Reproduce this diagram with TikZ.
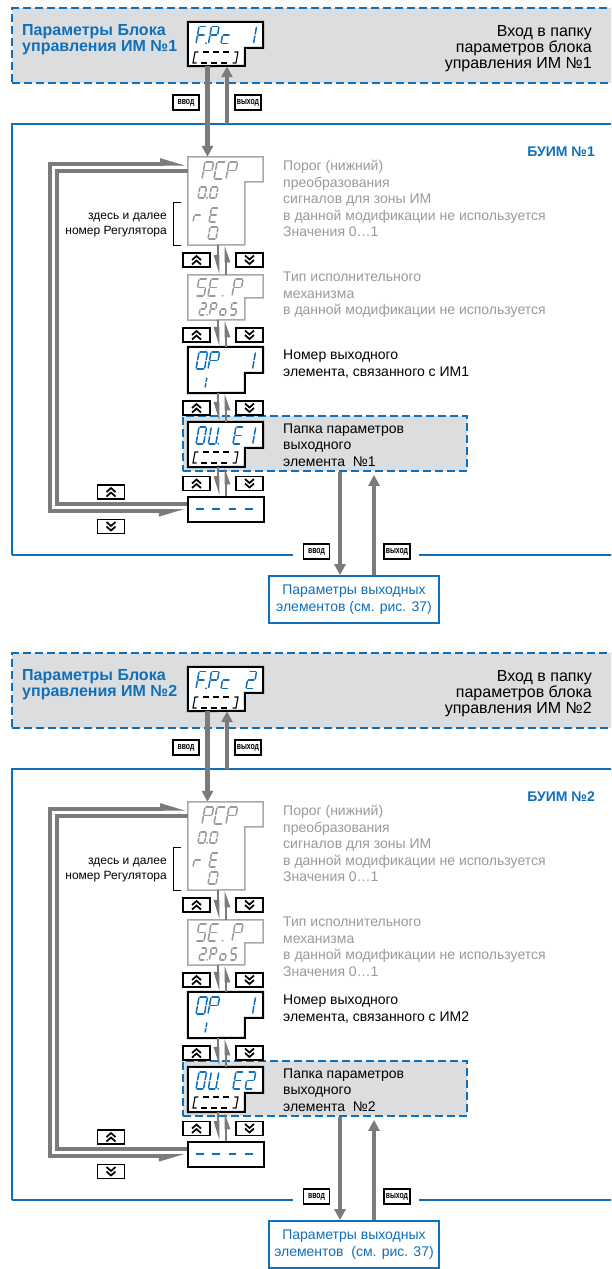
\documentclass[tikz,border=0pt]{standalone}
\usepackage{fontspec}
\setmainfont{Liberation Sans}
\usepackage{graphicx}
\usetikzlibrary{arrows.meta,calc}
\definecolor{ublue}{HTML}{0F6FB8}
\definecolor{fgrey}{HTML}{DCDDDF}
\definecolor{cgrey}{HTML}{7B7B7B}
\definecolor{tgrey}{HTML}{9A9A9A}
\definecolor{dgrey}{HTML}{A8A8A8}

% seven segment pieces (local coords, y pointing down, 0 = baseline)
\def\sgsega{\draw (1,-\sgH) -- (\sgW-1,-\sgH);}
\def\sgsegb{\draw (\sgW,-\sgH+1) -- (\sgW,-\sgH/2-1);}
\def\sgsegc{\draw (\sgW,-\sgH/2+1) -- (\sgW,-1);}
\def\sgsegd{\draw (1,0) -- (\sgW-1,0);}
\def\sgsege{\draw (0,-\sgH/2+1) -- (0,-1);}
\def\sgsegf{\draw (0,-\sgH+1) -- (0,-\sgH/2-1);}
\def\sgsegg{\draw (1,-\sgH/2) -- (\sgW-1,-\sgH/2);}
\def\sgsegp{\fill ({(\sgW+\sgA)/2},-0.2) circle (1);}
\def\sgsegq{\fill (2.5,-0.2) circle (1);}
\def\sgsegn{}

\newcommand\segstr[5]{%
  \def\sgW{#2}\def\sgH{#3}\def\sgA{#4}%
  \foreach \segs [count=\ci from 0] in {#5}{%
    \begin{scope}[shift={($#1+(\ci*#4,0)$)},xslant=0.18]
      \foreach \s in \segs {\csname sgseg\s\endcsname}
    \end{scope}}}

\newcommand\tlines[5]{%
  \foreach \txtline [count=\li from 0] in {#5}{%
    \node[anchor=base west,inner sep=0,#4] (#1-\li) at ($#2+(0,\li*#3)$) {\txtline};}}

\newcommand\notchbox[5]{%
  \node[inner sep=0,minimum width=75,minimum height={#4-#2}] (#1) at (225.5,{(#2+#4)/2}) {};
  \draw[#5] (#1.north west) -- (#1.north east) -- ($(#1.north east)+(0,#3-#2)$)
    -- ($(#1.north west)+(57,#3-#2)$) -- ($(#1.north west)+(57,#4-#2)$)
    -- (#1.south west) -- cycle;}

\newcommand\btn[4]{%
  \node[btnbox] (#1) at (#2,#3) {};
  \if#4u
    \draw[chev] ($(#1)+(-4.5,0)$) -- ($(#1)+(0,-4)$) -- ($(#1)+(4.5,0)$);
    \draw[chev] ($(#1)+(-4.5,4.5)$) -- ($(#1)+(0,0.5)$) -- ($(#1)+(4.5,4.5)$);
  \else
    \draw[chev] ($(#1)+(-4.5,0)$) -- ($(#1)+(0,4)$) -- ($(#1)+(4.5,0)$);
    \draw[chev] ($(#1)+(-4.5,-4.5)$) -- ($(#1)+(0,-0.5)$) -- ($(#1)+(4.5,-4.5)$);
  \fi}

\newcommand\dbrak[2]{%
  \begin{scope}[shift={(#1,#2)},xslant=0.18,line width=1.1,black]
    \draw (3.5,0) -- (0,0) -- (0,-11) -- (3.5,-11);
    \draw (39.5,0) -- (43,0) -- (43,-11) -- (39.5,-11);
    \foreach \q in {8,18,28} {\draw (\q,0) -- (\q+6,0); \draw (\q,-11) -- (\q+6,-11);}
  \end{scope}}

\newcommand\drawblock[2]{%
\begin{scope}[shift={(0,#1)}]
  % header
  \node[hdrbox] (hdr#2) at (322,45.7) {};
  \node[ttl] (ttla#2) at (22,35) {Параметры Блока};
  \node[ttl] (ttlb#2) at (22,51.7) {управления ИМ №#2};
  \tlines{hdrr#2}{(592,36.5)}{16}{rtext}{Вход в папку,параметров блока,управления ИМ №#2}
  \notchbox{fpc#2}{22}{48}{66}{blkbox}
  \begin{scope}[ublue,seg]
    \ifnum#2=1
      \segstr{(196,43.5)}{7.5}{17}{12.5}{{a,e,f,g,p},{a,b,e,f,g},{d,e,g},{n},{b,c}}
    \else
      \segstr{(196,43.5)}{7.5}{17}{12.5}{{a,e,f,g,p},{a,b,e,f,g},{d,e,g},{n},{a,b,d,e,g}}
    \fi
  \end{scope}
  \dbrak{193}{63}
  % main block frame
  \node[inner sep=0,minimum width=620,minimum height=431] (buim#2) at (322,339.5) {};
  \draw[ublue,line width=2] (buim#2.south west) -- (buim#2.north west) -- (buim#2.north east);
  \draw[ublue,line width=2] (buim#2.south west) -- ($(buim#2.south west)+(281,0)$);
  \draw[ublue,line width=2] ($(buim#2.south west)+(407,0)$) -- (buim#2.south east);
  \node[anchor=base east,inner sep=0,font=\fontsize{14}{16}\selectfont\bfseries,text=ublue] (bt#2) at (595,156) {БУИМ №#2};
  % folder of output element
  \node[foldbox,minimum width=284,minimum height=55] (oufold#2) at (325,443.5) {};
  % displays
  \notchbox{pcp#2}{157}{182}{245}{grybox}
  \notchbox{sep#2}{275}{298}{320}{grybox}
  \notchbox{op#2}{347}{373}{393}{blkbox}
  \notchbox{oue#2}{422}{448}{467}{blkbox}
  \node[blkbox,minimum width=76,minimum height=25,inner sep=0] (dash#2) at (225.5,509.5) {};
  \foreach \q in {196,212,228.5,245} {\draw[ublue,line width=2] (\q,509) -- (\q+7.5,509);}
  \begin{scope}[tgrey,seg]
    \segstr{(202,179)}{8.5}{17}{12}{{a,b,e,f,g},{a,d,e,f},{a,b,e,f,g}}
    \segstr{(198,198)}{6.5}{11}{11.5}{{a,b,c,d,e,f,p},{a,b,c,d,e,f}}
    \segstr{(193,222)}{7}{14}{16}{{e,g},{a,d,e,f,g}}
    \segstr{(208,239)}{8}{12}{10}{{a,b,c,d,e,f}}
    \segstr{(196,296)}{8}{17}{12}{{a,c,d,f,g},{a,d,e,f,g},{q},{a,b,e,f,g}}
    \segstr{(199,315)}{5.5}{12}{10.3}{{a,b,d,e,g,p},{a,b,e,f,g},{c,d,e,g},{a,c,d,f,g}}
  \end{scope}
  \begin{scope}[ublue,seg]
    \segstr{(196,369)}{8.5}{17}{12}{{a,b,c,d,e,f},{a,b,e,f,g},{n},{n},{b,c}}
    \segstr{(199,388)}{6}{11}{10}{{b,c}}
    \ifnum#2=1
      \segstr{(196,444)}{7.5}{17}{12.3}{{a,b,c,d,e,f},{b,c,d,e,f,p},{n},{a,d,e,f,g},{b,c}}
    \else
      \segstr{(196,444)}{7.5}{17}{12.3}{{a,b,c,d,e,f},{b,c,d,e,f,p},{n},{a,d,e,f,g},{a,b,d,e,g}}
    \fi
  \end{scope}
  \dbrak{193}{463}
  % texts
  \tlines{pcpd#2}{(283,170.7)}{16.5}{gtext}{Порог (нижний),преобразования,сигналов для зоны ИМ,в данной модификации не используется,Значения 0…1}
  \ifnum#2=1
    \tlines{sepd#2}{(283,281.7)}{16.6}{gtext}{Тип исполнительного,механизма,в данной модификации не используется}
  \else
    \tlines{sepd#2}{(283,281.7)}{16.6}{gtext}{Тип исполнительного,механизма,в данной модификации не используется,Значения 0…1}
  \fi
  \tlines{opd#2}{(283,359)}{17}{ktext}{Номер выходного,{элемента, связанного с ИМ#2}}
  \tlines{oud#2}{(283,433)}{16.8}{ktext}{Папка параметров,выходного,элемента\ \ №#2}
  \node[smtext] (rega#2) at (167,219) {здесь и далее};
  \node[smtext] (regb#2) at (167,234) {номер Регулятора};
  \draw[line width=0.9] (181,202) -- (173,202) -- (173,245) -- (181,245);
  % connectors
  \draw[mainarr] ($(fpc#2.south)+(-18,0)$) -- ($(pcp#2.north)+(-18,0)$);
  \coordinate (ua#2) at ($(fpc#2.south)+(1.5,0)$);
  \draw[mainarr] (ua#2 |- buim#2.north) -- (ua#2);
  \foreach \ta/\tb in {pcp/sep,sep/op,op/oue,oue/dash}{%
    \draw[harpd] ($(\ta#2.south)+(-7.5,0)$) -- ($(\tb#2.north)+(-7.5,0)$);
    \draw[harpu] ($(\tb#2.north)+(0.5,0)$) -- ($(\ta#2.south)+(0.5,0)$);}
  \draw[loopline,{Triangle[harpoon,swap,length=20pt,width=10pt]}-{Triangle[harpoon,length=20pt,width=10pt]}]
    ($(dash#2.west)+(0,1.5)$) -| ($(pcp#2.north west)+(-137.5,7)$) -- ($(pcp#2.north west)+(0,7)$);
  \draw[loopline] ($(dash#2.west)+(0,-5.5)$) -| ($(pcp#2.north west)+(-131,14)$) -- ($(pcp#2.north west)+(0,14)$);
  % buttons
  \btn{bu1#2}{196.5}{260}{u}\btn{bd1#2}{249.5}{260}{d}
  \btn{bu2#2}{196.5}{335}{u}\btn{bd2#2}{249.5}{335}{d}
  \btn{bu3#2}{196.5}{408}{u}\btn{bd3#2}{249.5}{408}{d}
  \btn{bu4#2}{196.5}{483.5}{u}\btn{bd4#2}{249.5}{483.5}{d}
  \btn{bu5#2}{111}{492}{u}\btn{bd5#2}{111}{526.5}{d}
  % enter / exit labels
  \node[lbl] (tin#2) at (186,102.5) {\scalebox{0.72}[1]{ввод}};
  \node[lbl] (tout#2) at (248,102.5) {\scalebox{0.72}[1]{выход}};
  \node[lbl] (bin#2) at (316.5,551.5) {\scalebox{0.72}[1]{ввод}};
  \node[lbl] (bout#2) at (397,551.5) {\scalebox{0.72}[1]{выход}};
  % output parameters
  \ifnum#2=1
    \node[outbox] (outpar#2) at (354,599.5) {Параметры выходных\\элементов (см. рис. 37)};
  \else
    \node[outbox] (outpar#2) at (354,599.5) {Параметры выходных\\элементов\ \ (см. рис. 37)};
  \fi
  \coordinate (dn#2) at ($(outpar#2.north)+(-14,0)$);
  \draw[mainarr] (dn#2 |- oufold#2.south) -- (dn#2);
  \coordinate (upc#2) at ($(outpar#2.north)+(20,0)$);
  \coordinate (fb#2) at (upc#2 |- oufold#2.south);
  \draw[mainarr] (upc#2) -- ($(fb#2)+(0,3)$);
\end{scope}}

\begin{document}
\begin{tikzpicture}[x=1pt,y=-1pt,
  hdrbox/.style={inner sep=0,minimum width=620,minimum height=74.7,fill=fgrey,draw=ublue,line width=2,dash pattern=on 8pt off 4pt},
  foldbox/.style={inner sep=0,fill=fgrey,draw=ublue,line width=1.8,dash pattern=on 8pt off 4pt},
  blkbox/.style={draw=black,line width=2,fill=white},
  grybox/.style={draw=dgrey,line width=1.5,fill=white},
  ttl/.style={anchor=base west,inner sep=0,font=\fontsize{16}{18}\selectfont\bfseries,text=ublue},
  rtext/.style={anchor=base east,font=\fontsize{16}{18}\selectfont,text=black},
  gtext/.style={font=\fontsize{14}{16}\selectfont,text=tgrey},
  ktext/.style={font=\fontsize{14}{16}\selectfont,text=black},
  smtext/.style={anchor=base east,inner sep=0,font=\fontsize{12}{14}\selectfont,text=black},
  mainarr/.style={draw=cgrey,line width=4.2,-{Triangle[length=11pt,width=11pt]}},
  harpd/.style={draw=cgrey,line width=2.6,-{Triangle[harpoon,swap,length=15pt,width=8pt]}},
  harpu/.style={draw=cgrey,line width=2.6,-{Triangle[harpoon,swap,length=13pt,width=8pt]}},
  loopline/.style={draw=cgrey,line width=3.8},
  btnbox/.style={draw=black,line width=1.4,fill=white,minimum width=27,minimum height=14,inner sep=0},
  chev/.style={draw=black,line width=1.7},
  lbl/.style={draw=black,line width=1.1,fill=white,minimum width=26,minimum height=15,inner sep=0,font=\fontsize{9.5}{10}\selectfont\bfseries},
  outbox/.style={draw=ublue,line width=1.8,fill=white,minimum width=170,minimum height=47,inner sep=0,align=center,text=ublue,font=\fontsize{14}{17.5}\selectfont},
  seg/.style={line width=1.5,line cap=round}]
\useasboundingbox (0,0) rectangle (611,1269);
\clip (0,0) rectangle (611,1269);
\fill[white] (0,0) rectangle (611,1269);
\drawblock{0}{1}
\drawblock{645}{2}
\end{tikzpicture}
\end{document}
